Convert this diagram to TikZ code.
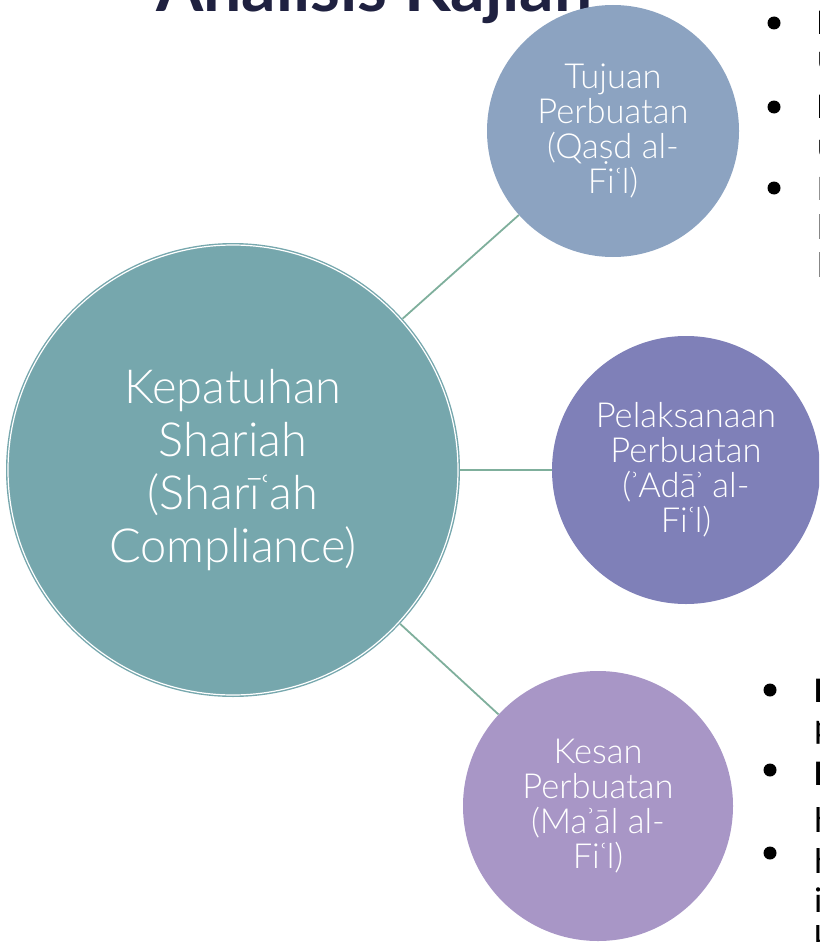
\documentclass[tikz,border=0pt]{standalone}
\usepackage{fontspec}
\setmainfont{Lato}
\newfontfamily\lightfont{Lato Light}
\newfontfamily\bulfont{Carlito}
\definecolor{cteal}{HTML}{76A7AD}
\definecolor{cblue}{HTML}{8CA3C1}
\definecolor{cviolet}{HTML}{7F80B8}
\definecolor{clilac}{HTML}{A896C6}
\definecolor{cline}{HTML}{7FAF9C}
\definecolor{ctitle}{HTML}{1F2140}
\tikzset{
  bubble/.style={circle, inner sep=0pt, text=white, align=center,
    font=\lightfont\fontsize{34.5}{35}\selectfont},
  conn/.style={draw=cline, line width=1.8pt},
  dot/.style={circle, fill=black, minimum size=13pt, inner sep=0pt},
  btxt/.style={anchor=base west, inner sep=0pt, font=\bulfont\fontsize{36}{36}\selectfont},
  bbold/.style={btxt, font=\bulfont\bfseries\fontsize{36}{36}\selectfont}
}
\begin{document}
\begin{tikzpicture}[x=1pt,y=-1pt]
\useasboundingbox (0,0) rectangle (819,942);
\clip (0,0) rectangle (819,942);
% title
\node[font=\bfseries\fontsize{68}{68}\selectfont, text=ctitle, anchor=base west, inner sep=0pt] (title) at (156,12) {Analisis Kajian};
% circles
\node[bubble, fill=cteal, minimum size=454pt, font=\lightfont\fontsize{47}{53}\selectfont] (main) at (233,470) {Kepatuhan\\Shariah\\(Sharīʿah\\Compliance)};
\draw[white, line width=1.2pt] (main.center) circle (225pt);
\node[bubble, fill=cblue, minimum size=252pt] (top) at (613,131) {Tujuan\\Perbuatan\\(Qaṣd al-\\Fiʿl)};
\node[bubble, fill=cviolet, minimum size=268pt] (mid) at (686,470) {Pelaksanaan\\Perbuatan\\(ʾAdāʾ al-\\Fiʿl)};
\node[bubble, fill=clilac, minimum size=270pt] (bot) at (598,806) {Kesan\\Perbuatan\\(Maʾāl al-\\Fiʿl)};
% connectors
\draw[conn] (main) -- (top);
\draw[conn] (main) -- (mid);
\draw[conn] (main) -- (bot);
% right bullets, top group
\node[dot] (d1) at (774,23) {};
\node[dot] (d2) at (774,107) {};
\node[dot] (d3) at (774,188) {};
\node[bbold] (t1) at (817,35) {P};
\node[btxt] (t2) at (817,70) {u};
\node[bbold] (t3) at (817,118) {P};
\node[btxt] (t4) at (817,157) {u};
\node[btxt] (t5) at (817,200) {P};
\node[btxt] (t6) at (817,239) {b};
\node[btxt] (t7) at (817,277) {b};
% right bullets, bottom group
\node[dot] (d4) at (770,690) {};
\node[dot] (d5) at (770,770) {};
\node[dot] (d6) at (770,853) {};
\node[bbold] (u1) at (814,702) {B};
\node[btxt] (u2) at (814,738) {p};
\node[bbold] (u3) at (814,785) {B};
\node[btxt] (u4) at (814,832) {h};
\node[btxt] (u5) at (814,873) {h};
\node[btxt] (u6) at (814,912) {i};
\node[btxt] (u7) at (814,950) {k};
\end{tikzpicture}
\end{document}
